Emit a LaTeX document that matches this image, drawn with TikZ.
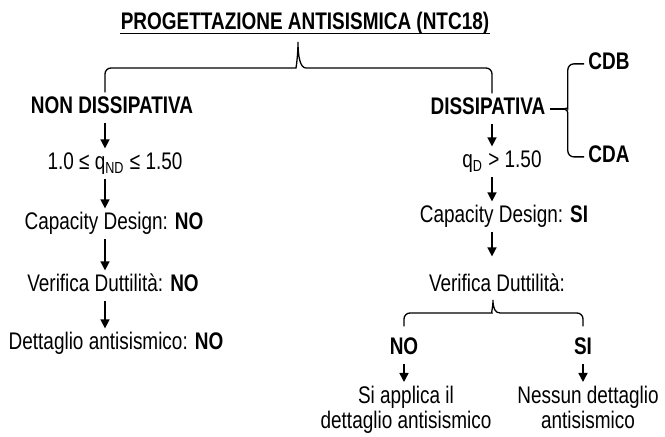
\documentclass[tikz,border=0pt]{standalone}
\usepackage{fontspec}
\setmainfont{Liberation Sans}[FakeStretch=0.79]
\usepackage{tikz}
\usetikzlibrary{arrows.meta, calc}
\newcommand{\bodyfont}{\fontsize{12}{12.5}\selectfont}

\begin{document}
\begin{tikzpicture}[
  x=0.5pt, y=-0.5pt,
  txt/.style={font=\bodyfont, anchor=base, inner sep=2pt,
    text height=8.6pt, text depth=2.5pt},
  hdr/.style={txt, font=\bodyfont\bfseries},
  two/.style={font=\bodyfont, align=center, anchor=north, inner sep=2pt},
  arr/.style={-{Triangle[length=4.5pt, width=4.5pt]}, line width=0.75pt},
  brace/.style={line width=0.65pt},
]
  \useasboundingbox (0,0) rectangle (665,437);

  % arrow columns
  \coordinate (lx) at (105,0);
  \coordinate (rx) at (492,0);

  % ── Title ────────────────────────────────────────────────────────────
  \node[hdr, inner sep=0pt] (title) at (305,30) {PROGETTAZIONE ANTISISMICA (NTC18)};
  \draw[line width=0.5pt] ([yshift=-1.6pt]title.base west) -- ([yshift=-1.6pt]title.base east);
  \coordinate (tip1) at (298,42);

  % ── Left column ──────────────────────────────────────────────────────
  \node[hdr] (nd)  at (112,114) {NON DISSIPATIVA};
  \node[txt] (q1)  at (115,170) {1.0 ≤ q\textsubscript{ND} ≤ 1.50};
  \node[txt] (cd1) at (114,230) {Capacity Design: \textbf{NO}};
  \node[txt] (vd1) at (113,292) {Verifica Duttilità: \textbf{NO}};
  \node[txt] (dt1) at (116,350) {Dettaglio antisismico: \textbf{NO}};

  % ── Right column ─────────────────────────────────────────────────────
  \node[hdr] (dis) at (488,115) {DISSIPATIVA};
  \node[hdr] (cdb) at (609,70)  {CDB};
  \node[hdr] (cda) at (609,163) {CDA};
  \node[txt] (q2)  at (502,168) {q\textsubscript{D} > 1.50};
  \node[txt] (cd2) at (504,223) {Capacity Design: \textbf{SI}};
  \node[txt] (vd2) at (497,292) {Verifica Duttilità:};
  \coordinate (tip2) at (493,300);

  \node[hdr] (no) at (404,355) {NO};
  \node[hdr] (si) at (583,355) {SI};
  \node[two] (app) at (406,382) {Si applica il\\dettaglio antisismico};
  \node[two] (nes) at (588,382) {Nessun dettaglio\\antisismico};

  % ── Braces ───────────────────────────────────────────────────────────
  \draw[brace] (nd.north -| lx) [rounded corners=3pt] |- ($(tip1)+(-8,26)$)
    [sharp corners] .. controls +(6,0) and +(0,14) .. (tip1)
    .. controls +(0,14) and +(-6,0) .. ($(tip1)+(8,26)$)
    [rounded corners=3pt] -| (dis.north -| rx);
  \draw[brace] ([yshift=3.5pt]no.north) [rounded corners=3pt] |- ($(tip2)+(-7,13)$)
    [sharp corners] .. controls +(5,0) and +(0,8) .. (tip2)
    .. controls +(0,8) and +(-5,0) .. ($(tip2)+(7,13)$)
    [rounded corners=3pt] -| ([yshift=3.5pt]si.north);
  \path (dis.east) ++(14,0) coordinate (tip3);
  \draw[brace] (dis.east) -- (tip3);
  \draw[brace] (cdb.west) [rounded corners=3pt] -| ($(tip3)+(4,-6)$)
    [sharp corners] .. controls +(0,4) and +(3,0) .. (tip3)
    .. controls +(3,0) and +(0,-4) .. ($(tip3)+(4,6)$)
    [rounded corners=3pt] |- (cda.west);

  % ── Arrows ───────────────────────────────────────────────────────────
  \draw[arr] (nd.south -| lx)  -- (q1.north -| lx);
  \draw[arr] (q1.south -| lx)  -- (cd1.north -| lx);
  \draw[arr] (cd1.south -| lx) -- (vd1.north -| lx);
  \draw[arr] (vd1.south -| lx) -- (dt1.north -| lx);
  \draw[arr] (dis.south -| rx) -- (q2.north -| rx);
  \draw[arr] (q2.south -| rx)  -- (cd2.north -| rx);
  \draw[arr, shorten >=7pt] (cd2.south -| rx) -- (vd2.north -| rx);
  \draw[arr] (no.south) -- (no.south |- app.north);
  \draw[arr] (si.south) -- (si.south |- nes.north);
\end{tikzpicture}
\end{document}
